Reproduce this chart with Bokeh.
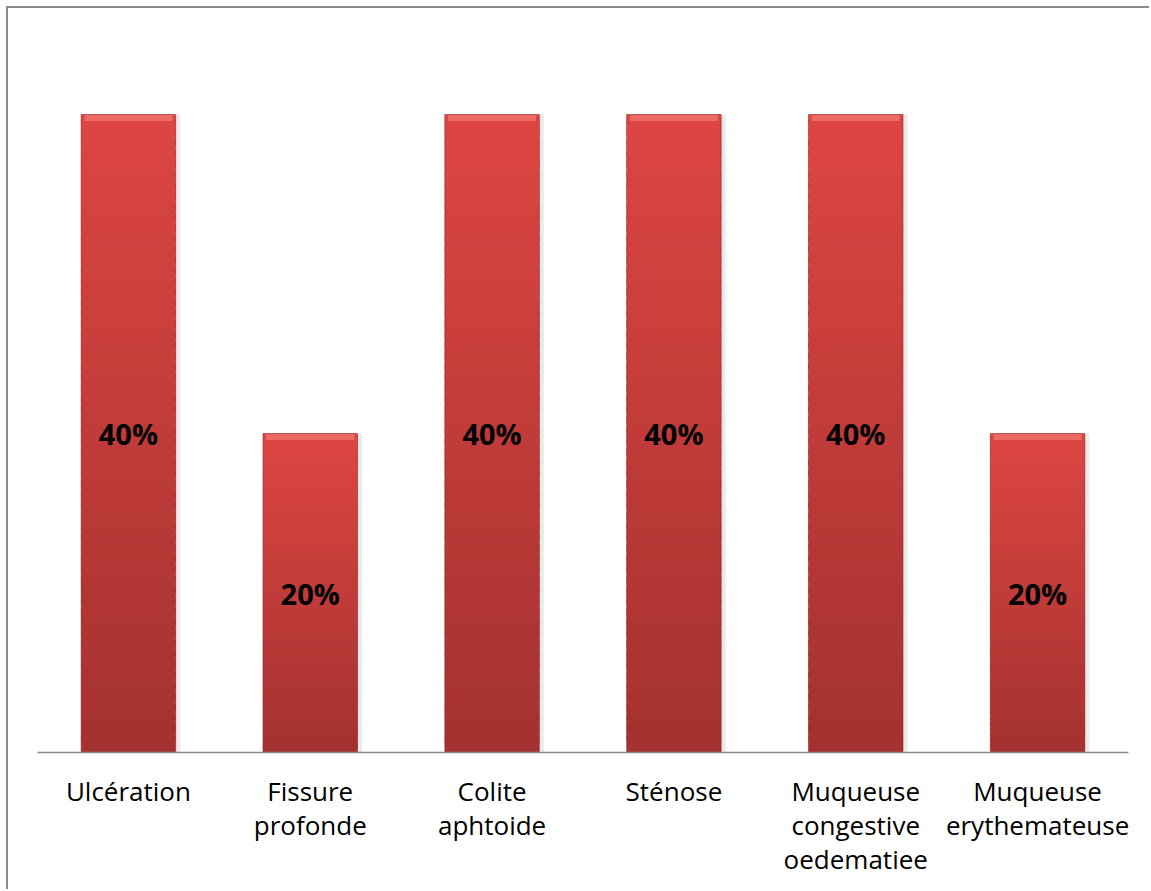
from bokeh.plotting import figure
from bokeh.models import Range1d, ColumnDataSource
from bokeh.core.properties import value
from bokeh.embed import file_html
from bokeh.resources import INLINE

categories = ["Ulcération", "Fissure\nprofonde", "Colite\naphtoide", "Sténose",
              "Muqueuse\ncongestive\noedematiee", "Muqueuse\nerythemateuse"]
values = [0.40, 0.20, 0.40, 0.40, 0.40, 0.20]
labels = ["40%", "20%", "40%", "40%", "40%", "20%"]

TOP = (222, 70, 67)
BOT = (164, 50, 48)
BAR_W = 0.52
N = 60

p = figure(x_range=categories, y_range=Range1d(0, 0.4 * 742 / 638),
           width=1143, height=883, output_backend="svg", toolbar_location=None,
           min_border_left=29, min_border_right=23, min_border_top=2, min_border_bottom=139,
           styles={"margin-left": "6px", "margin-top": "6px",
                   "border-top": "2px solid #8a8a8a", "border-left": "2px solid #8a8a8a"})
p.outline_line_color = None
p.grid.grid_line_color = None
p.yaxis.visible = False
p.background_fill_color = "white"
p.border_fill_color = "white"

# shadow
p.vbar(x=[(c, 0.025) for c in categories], top=values, bottom=0, width=BAR_W,
       fill_color="#000000", fill_alpha=0.08, line_color=None)

# gradient slices (overlapping so there are no seams)
xs, bots, tops, cols = [], [], [], []
for c, v in zip(categories, values):
    for i in range(N):
        xs.append(c)
        bots.append(v * i / N)
        tops.append(min(v, v * (i + 1.6) / N))
        t = (i + 0.5) / N
        r = int(BOT[0] + (TOP[0] - BOT[0]) * t)
        g = int(BOT[1] + (TOP[1] - BOT[1]) * t)
        b = int(BOT[2] + (TOP[2] - BOT[2]) * t)
        cols.append("#%02x%02x%02x" % (r, g, b))
src = ColumnDataSource(dict(x=xs, bottom=bots, top=tops, color=cols))
p.vbar(x="x", bottom="bottom", top="top", width=BAR_W, fill_color="color",
       line_color=None, source=src)

# bevel highlight at top
p.vbar(x=categories, top=values, bottom=[v - 0.004 for v in values], width=BAR_W * 0.93,
       fill_color="#ec6a66", line_color=None)
# darker right/left edges
p.vbar(x=categories, top=values, bottom=0, width=BAR_W, fill_color=None,
       line_color="#8e2a28", line_width=1, line_alpha=0.55)

p.text(x=categories, y=[v / 2 for v in values], text=labels,
       text_font=value("Open Sans"), text_font_style="bold", text_font_size="29px",
       text_color="black", text_align="center", text_baseline="middle")

ax = p.xaxis[0]
ax.axis_line_color = "#8c8c8c"
ax.axis_line_width = 1.5
ax.major_tick_line_color = None
ax.minor_tick_line_color = None
ax.major_label_text_font = "Open Sans"
ax.major_label_text_font_size = "26px"
ax.major_label_text_color = "black"
ax.major_label_standoff = 14
ax.major_label_text_line_height = 0.95

open("out.html", "w").write(file_html(p, INLINE))
